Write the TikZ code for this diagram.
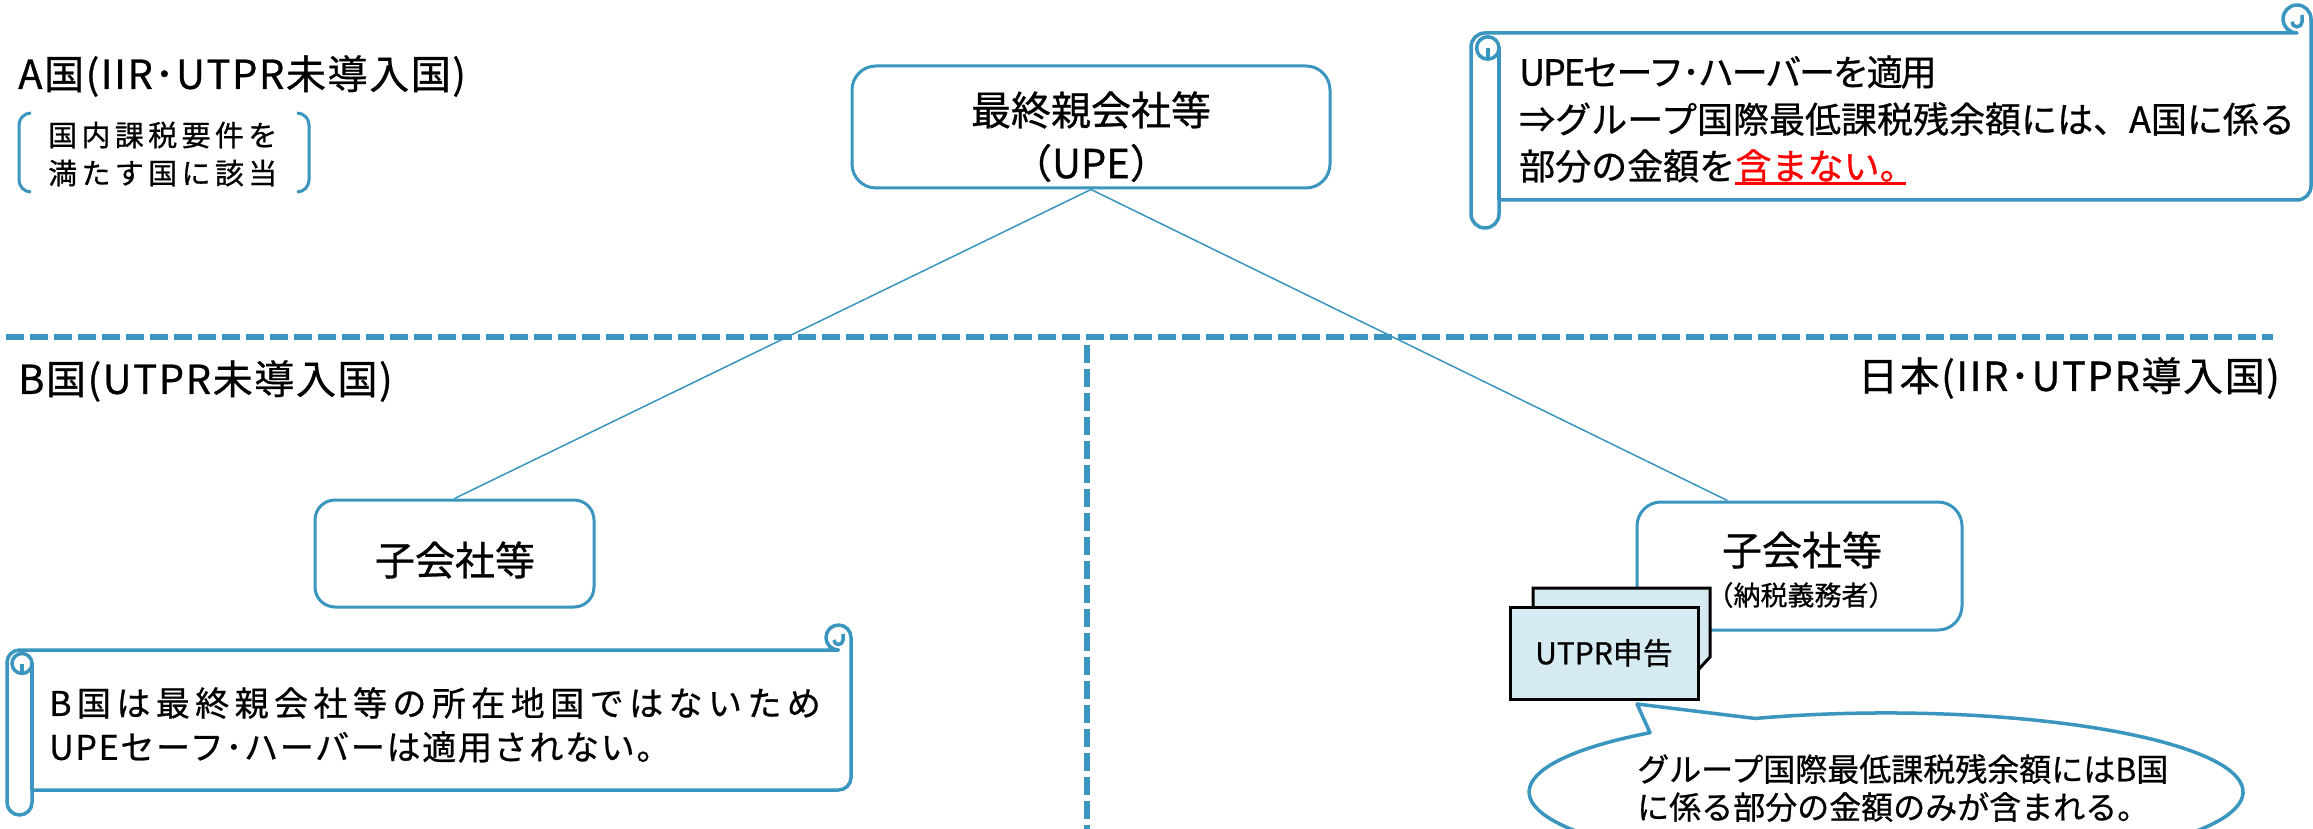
\documentclass[tikz,border=0pt]{standalone}
\usepackage{fontspec}
\setmainfont{Noto Sans CJK JP}[FakeBold=0.7]
\usetikzlibrary{calc}
\definecolor{bl}{RGB}{58,150,190}
\definecolor{docfill}{RGB}{214,234,242}
\newcommand\myfs[1]{\fontsize{#1pt}{#1pt}\selectfont}
\newcommand\myscroll[5]{%
  \pgfmathsetmacro\scL{#1}\pgfmathsetmacro\scT{#2}\pgfmathsetmacro\scR{#3}\pgfmathsetmacro\scB{#4}%
  \pgfmathsetmacro\scH{#5/2}%
  \pgfmathsetmacro\scA{#2+1.5*#5}%
  \pgfmathsetmacro\scTop{#2+#5}%
  \pgfmathsetmacro\scRh{#3-#5/2}%
  \pgfmathsetmacro\scRb{#4-1.5*#5}%
  \pgfmathsetmacro\scBot{#4-#5}%
  \pgfmathsetmacro\scLc{#1+#5}%
  \pgfmathsetmacro\scBh{#4-#5/2}%
  \pgfmathsetmacro\scLr{0.8*#5/2}%
  \pgfmathsetmacro\scLx{#1+#5-0.8*#5/2}%
  \pgfmathsetmacro\scLy{#2+1.5*#5+1}%
  \pgfmathsetmacro\scLyb{#2+1.5*#5+1+0.8*#5/2}%
  \pgfmathsetmacro\scCr{0.36*#5/2}%
  \pgfmathsetmacro\scCx{#3-#5/2-0.36*#5/2}%
  \pgfmathsetmacro\scCy{#2+#5/2+0.2*#5/2}%
  \pgfmathsetmacro\scCs{0.5*#5/2}%
  \draw[scrollshape] (\scL,\scA) arc[start angle=180,end angle=270,radius=\scH]
    -- (\scRh,\scTop) arc[start angle=90,end angle=360,radius=\scH]
    -- (\scR,\scRb) arc[start angle=0,end angle=90,radius=\scH]
    -- (\scLc,\scBot) -- (\scLc,\scBh) arc[start angle=0,end angle=180,radius=\scH] -- cycle;
  \draw[scrolldet] (\scLc,\scA) -- (\scLc,\scBot);
  \draw[scrolldet] (\scLx,\scLy) circle[radius=\scLr];
  \draw[scrolldet] (\scLx,\scLy) -- (\scLx,\scLyb);
  \draw[scrolldet] (\scCx,\scCy) arc[start angle=180,end angle=0,radius=\scCr] -- ++(0,-\scCs);
}
\begin{document}
\begin{tikzpicture}[x=1pt,y=-1pt,
  box/.style={draw=bl, line width=3pt, rounded corners=24pt, fill=white, inner sep=0pt},
  lbl/.style={inner sep=0pt, anchor=west},
  txt/.style={inner sep=0pt},
  conn/.style={draw=bl, line width=1.5pt},
  divider/.style={draw=bl, line width=5.5pt, dash pattern=on 18pt off 6pt},
  scrollshape/.style={draw=bl, line width=3.5pt, fill=white, line join=round},
  scrolldet/.style={draw=bl, line width=3.5pt},
  brk/.style={draw=bl, line width=3pt, rounded corners=12pt},
  docshape/.style={draw=black, line width=3pt, fill=docfill},
  callout/.style={draw=bl, line width=3.5pt, fill=white, line join=round},
  region/.style={inner sep=0pt, font=\myfs{40}\addfontfeatures{LetterSpace=4}}]
\useasboundingbox (0,0) rectangle (2313,829);
\fill[white] (0,0) rectangle (2313,829);

% dividers
\coordinate (hl) at (6,337);
\coordinate (hr) at (2273,337);
\coordinate (vt) at (1087,345);
\coordinate (vb) at (1087,835);
\draw[divider] (hl) -- (hr);
\draw[divider] (vt) -- (vb);

% boxes
\node[box, minimum width=478pt, minimum height=122pt] (upe) at (1091,127) {};
\node[box, rounded corners=20pt, minimum width=279pt, minimum height=107pt] (lc) at (454.5,553.5) {};
\node[box, minimum width=325pt, minimum height=128pt] (rc) at (1799.5,566) {};

% connectors
\draw[conn] (upe.south) -- (lc.north);
\draw[conn] (upe.south) -- ($(rc.north west)!0.28!(rc.north east)$);

% box texts
\node[txt, font=\myfs{40}] (upe1) at (1091,110) {最終親会社等};
\node[txt, font=\myfs{40}] (upe2) at (1091,163) {（UPE）};
\node[txt, font=\myfs{40}] (lct) at (455,560) {子会社等};
\node[txt, font=\myfs{40}] (rct1) at (1802,550) {子会社等};
\node[txt, font=\myfs{27}] (rct2) at (1801,595) {（納税義務者）};

% region labels
\node[region, anchor=west] (la) at (18,76) {A国(IIR･UTPR未導入国)};
\node[region, anchor=west] (lb) at (18,381) {B国(UTPR未導入国)};
\node[region, anchor=east] (lj) at (2280,378) {日本(IIR･UTPR導入国)};

% bracket note
\draw[brk] (31,113) -- (19,113) -- (19,192) -- (31,192);
\draw[brk] (297,113) -- (309,113) -- (309,192) -- (297,192);
\node[lbl, font=\myfs{29}\addfontfeatures{LetterSpace=15}] (br1) at (48,135) {国内課税要件を};
\node[lbl, font=\myfs{29}\addfontfeatures{LetterSpace=15}] (br2) at (48,173) {満たす国に該当};

% top right scroll
\myscroll{1471}{5}{2311}{228}{28}
\node[lbl, font=\myfs{36}\addfontfeatures{LetterSpace=-6}] (s1) at (1519,72) {UPEセーフ･ハーバーを適用};
\node[lbl, font=\myfs{36}] (s2) at (1519,119) {⇒グループ国際最低課税残余額には、A国に係る};
\node[lbl, font=\myfs{36}] (s3) at (1519,166) {部分の金額を};
\node[txt, anchor=base west, font=\myfs{36}, text=red] (s4) at (s3.base east) {含まない。};
\draw[red, line width=2.5pt] ([yshift=-4pt]s4.base west) -- ([yshift=-4pt,xshift=-10pt]s4.base east);

% left scroll
\myscroll{7}{625}{851}{815}{25}
\node[lbl, font=\myfs{34}\addfontfeatures{LetterSpace=16}] (t1) at (49,703) {B国は最終親会社等の所在地国ではないため};
\node[lbl, font=\myfs{34}\addfontfeatures{LetterSpace=5}] (t2) at (49,747) {UPEセーフ･ハーバーは適用されない。};

% document
\draw[docshape] (1533,588) -- (1710,588) -- (1710,657) -- (1698,670) -- (1533,670) -- cycle;
\node[docshape, inner sep=0pt, minimum width=188pt, minimum height=92pt, font=\myfs{30}] (doc) at (1604,653) {UTPR申告};

% callout
\coordinate (tip) at (1637,704);
\draw[callout] (tip) -- (1650,732.7)
  arc[start angle=228.6, end angle=-111.5, x radius=357, y radius=79] -- cycle;
\node[lbl, font=\myfs{32}] (c1) at (1637,769) {グループ国際最低課税残余額にはB国};
\node[lbl, font=\myfs{32}] (c2) at (1637,807) {に係る部分の金額のみが含まれる。};
\end{tikzpicture}
\end{document}
